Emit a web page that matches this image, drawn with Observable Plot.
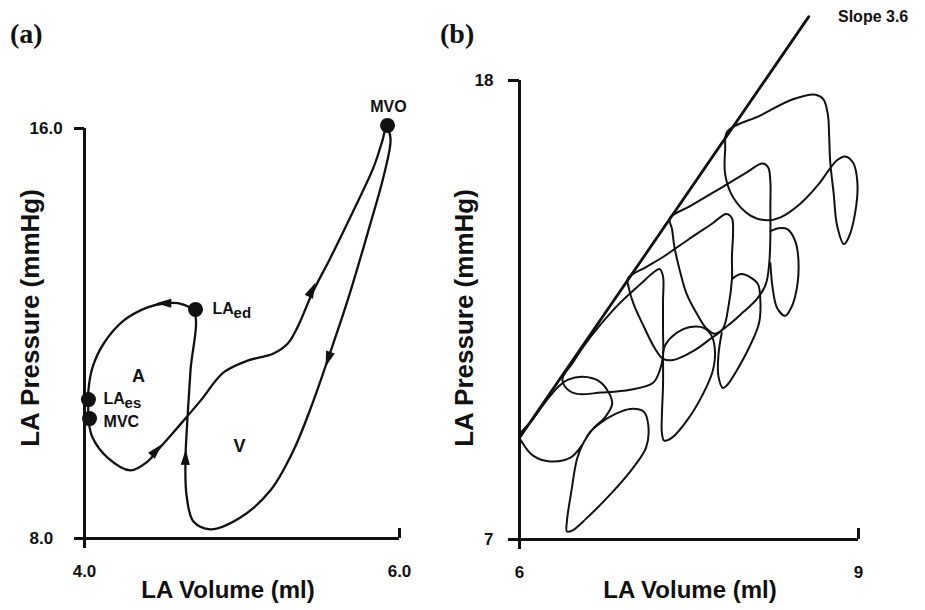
<!DOCTYPE html>
<html><head><meta charset="utf-8">
<script src="https://cdn.jsdelivr.net/npm/d3@7"></script>
<script src="https://cdn.jsdelivr.net/npm/@observablehq/plot@0.6"></script>
<style>
html,body{margin:0;padding:0;background:#fff;}
#page{position:relative;width:925px;height:610px;overflow:hidden;background:#fff;}
.lbl{position:absolute;font-family:"Liberation Sans",Arial,sans-serif;font-weight:bold;color:#111;white-space:nowrap;line-height:1;}
.ttl{position:absolute;font-family:"Liberation Serif","Times New Roman",serif;font-weight:bold;font-size:28px;color:#111;line-height:1;}
.rot{transform:translate(-50%,-50%) rotate(-90deg);}
.ctr{transform:translate(-50%,-50%);}
</style></head><body><div id="page"></div>
<script>
// ---------- Panel (a): single LA pressure-volume loop (V in ml, P in mmHg) ----------
const aLoop = [
 [4.025,10.32],[4.051,9.97],[4.146,9.58],[4.292,9.33],[4.400,9.50],[4.470,9.74],[4.629,10.30],[4.737,10.69],
 [4.883,11.24],[5.035,11.47],[5.200,11.61],[5.289,11.80],[5.352,12.12],[5.448,12.80],[5.562,13.48],[5.708,14.40],
 [5.835,15.24],[5.892,15.77],[5.917,16.04],[5.943,15.80],[5.905,15.14],[5.797,13.95],[5.670,12.64],[5.549,11.53],
 [5.454,10.69],[5.327,9.72],[5.181,8.94],[4.990,8.41],[4.800,8.18],[4.692,8.33],[4.648,8.84],[4.641,9.52],
 [4.654,10.36],[4.673,11.28],[4.698,12.41],[4.622,12.57],[4.514,12.59],[4.400,12.51],[4.248,12.25],[4.121,11.80],
 [4.051,11.34],[4.025,10.89],[4.025,10.69]
];
const aPoints = [
 {name:"MVO", V:5.924, P:16.06},
 {name:"LAed", V:4.705, P:12.47},
 {name:"LAes", V:4.025, P:10.71},
 {name:"MVC", V:4.032, P:10.34}
];
const aArrows = [
 {V:4.514, P:12.59, angle:-90},
 {V:4.450, P:9.70, angle:42},
 {V:5.440, P:12.82, angle:25},
 {V:5.550, P:11.53, angle:198},
 {V:4.641, P:9.55, angle:2}
];
const aTopLabels = [{text:"MVO", V:5.93, P:16.43}];
const aSideLabels = [
 {text:"LA", V:4.813, P:12.49},
 {text:"LA", V:4.121, P:10.73},
 {text:"MVC", V:4.121, P:10.28}
];
const aSubs = [
 {text:"ed", V:4.813, P:12.49},
 {text:"es", V:4.121, P:10.73}
];
const aRegions = [
 {text:"A", V:4.343, P:11.16},
 {text:"V", V:4.984, P:9.80}
];
const aXTicks = [4, 6];
const aYTicks = [8, 16];

// ---------- Panel (b): family of loops and slope line ----------
const slopeLine = [[6.00,9.44],[8.56,19.53]];
const loop1 = [[7.84,16.78],[8.13,17.16],[8.42,17.55],[8.62,17.66],[8.69,17.55],[8.73,17.16],[8.74,16.68],[8.75,16.04],
 [8.78,15.30],[8.81,14.53],[8.87,14.08],[8.91,14.22],[8.97,14.82],[8.99,15.56],[8.95,16.04],[8.88,16.18],[8.81,16.09],
 [8.75,15.90],[8.64,15.49],[8.49,15.06],[8.31,14.72],[8.19,14.65],[8.04,14.77],[7.89,15.20],[7.82,15.75],[7.82,16.33]];
const loop2 = [[7.33,14.70],[7.51,14.99],[7.78,15.42],[8.00,15.78],[8.15,16.01],[8.20,15.92],[8.22,15.58],[8.22,14.99],
 [8.22,14.27],[8.21,13.62],[8.18,13.12],[8.10,12.76],[7.98,12.45],[7.85,12.14],[7.73,11.93],[7.65,12.07],[7.58,12.36],
 [7.48,12.88],[7.42,13.43],[7.37,14.03],[7.35,14.44]];
const loop2Lobe = [[8.22,14.39],[8.29,14.46],[8.37,14.44],[8.44,14.15],[8.47,13.55],[8.44,12.83],[8.39,12.48],[8.35,12.36],
 [8.28,12.55],[8.24,13.03],[8.22,13.62]];
const loop3 = [[6.96,13.26],[7.12,13.53],[7.27,13.77],[7.51,14.22],[7.71,14.58],[7.83,14.80],[7.88,14.70],[7.89,14.39],
 [7.88,13.79],[7.88,13.24],[7.85,12.60],[7.80,12.05],[7.69,11.81],[7.54,11.52],[7.36,11.30],[7.27,11.33],[7.20,11.57],
 [7.09,12.16],[7.01,12.64],[6.97,13.00]];
const loop3Lobe = [[7.88,13.24],[7.96,13.36],[8.04,13.29],[8.11,13.12],[8.13,12.81],[8.12,12.19],[8.03,11.59],[7.92,11.04],
 [7.84,10.71],[7.80,10.63],[7.76,10.92],[7.76,11.40],[7.79,11.95]];
const loop4 = [[6.38,10.85],[6.47,11.23],[6.57,11.64],[6.72,12.16],[6.89,12.67],[7.07,13.12],[7.19,13.41],[7.24,13.48],
 [7.27,13.31],[7.27,12.71],[7.27,12.00],[7.27,11.40],[7.24,11.04],[7.18,10.75],[6.98,10.59],[6.72,10.52],[6.51,10.49],[6.42,10.61]];
const loop4Lobe = [[7.27,11.40],[7.27,10.68],[7.26,9.97],[7.26,9.56],[7.28,9.37],[7.35,9.44],[7.50,9.92],[7.63,10.52],
 [7.71,11.04],[7.73,11.52],[7.70,11.88],[7.63,12.07],[7.51,12.09],[7.38,11.93],[7.29,11.66],[7.27,11.47]];
const loop5 = [[6.00,9.49],[6.10,9.82],[6.23,10.30],[6.35,10.68],[6.43,10.83],[6.56,10.90],[6.70,10.80],[6.79,10.52],
 [6.82,10.25],[6.76,9.94],[6.65,9.65],[6.57,9.34],[6.51,8.94],[6.46,8.17],[6.42,7.45],[6.42,7.19],[6.47,7.22],[6.59,7.50],
 [6.81,8.10],[7.00,8.70],[7.12,9.20],[7.14,9.73],[7.10,10.06],[6.98,10.13],[6.85,10.01],[6.72,9.80],[6.62,9.56],[6.55,9.25],
 [6.45,8.96],[6.27,8.87],[6.12,9.01],[6.03,9.30]];
const bXTicks = [6, 9];
const bYTicks = [7, 18];

// ---------- helpers ----------
const FONT = "Liberation Sans, Arial, sans-serif";
const INK = "#111";
const arrowHead = {draw(ctx, size) {
  const r = Math.sqrt(size / Math.PI);
  ctx.moveTo(0, -1.5 * r); ctx.lineTo(0.7 * r, 0.9 * r); ctx.lineTo(-0.7 * r, 0.9 * r); ctx.closePath();
}};
const px = d => d[0], py = d => d[1];
const closedLine = (data, w = 2) => Plot.line(data, {x: px, y: py, curve: "catmull-rom-closed", stroke: INK, strokeWidth: w});
const openLine = (data, w = 2) => Plot.line(data, {x: px, y: py, curve: "catmull-rom", stroke: INK, strokeWidth: w});

// ---------- Panel (a) ----------
const A = {w: 430, h: 610, ml: 84, mr: 31, mt: 128, mb: 72};
const aPW = A.w - A.ml - A.mr, aPH = A.h - A.mt - A.mb;
const plotA = Plot.plot({
  width: A.w, height: A.h, marginLeft: A.ml, marginRight: A.mr, marginTop: A.mt, marginBottom: A.mb,
  x: {domain: [4, 6], label: null}, y: {domain: [8, 16], label: null},
  style: {fontFamily: FONT, fontWeight: "bold", color: INK, background: "transparent", overflow: "visible"},
  marks: [
    Plot.ruleX([4], {stroke: INK, strokeWidth: 3, insetBottom: -10}),
    Plot.ruleY([8], {stroke: INK, strokeWidth: 3, insetLeft: -10}),
    Plot.ruleY([16], {stroke: INK, strokeWidth: 3, insetLeft: -10, insetRight: aPW}),
    Plot.ruleX([6], {stroke: INK, strokeWidth: 3, insetTop: aPH - 10}),
    Plot.axisX(aXTicks, {tickSize: 0, tickPadding: 26, tickFormat: d3.format(".1f"), fontSize: 17, fontWeight: "bold", label: null}),
    Plot.axisY(aYTicks, {tickSize: 0, tickPadding: 55, textAnchor: "start", tickFormat: d3.format(".1f"), fontSize: 17, fontWeight: "bold", label: null}),
    closedLine(aLoop, 2.3),
    Plot.dot(aArrows, {x: "V", y: "P", rotate: "angle", symbol: arrowHead, r: 6.5, fill: INK, stroke: "none"}),
    Plot.dot(aPoints, {x: "V", y: "P", r: 7.5, fill: INK, stroke: "none"}),
    Plot.text(aTopLabels, {x: "V", y: "P", text: "text", textAnchor: "middle", fontSize: 16, fontWeight: "bold", fill: INK}),
    Plot.text(aSideLabels, {x: "V", y: "P", text: "text", textAnchor: "start", fontSize: 16, fontWeight: "bold", fill: INK}),
    Plot.text(aSubs, {x: "V", y: "P", text: "text", textAnchor: "start", dx: 21, dy: 5, fontSize: 15, fontWeight: "bold", fill: INK}),
    Plot.text(aRegions, {x: "V", y: "P", text: "text", fontSize: 18, fontWeight: "bold", fill: INK})
  ]
});

// ---------- Panel (b) ----------
const B = {w: 495, h: 610, ml: 89, mr: 67, mt: 80, mb: 71};
const bPW = B.w - B.ml - B.mr, bPH = B.h - B.mt - B.mb;
const plotB = Plot.plot({
  width: B.w, height: B.h, marginLeft: B.ml, marginRight: B.mr, marginTop: B.mt, marginBottom: B.mb,
  x: {domain: [6, 9], label: null}, y: {domain: [7, 18], label: null},
  style: {fontFamily: FONT, fontWeight: "bold", color: INK, background: "transparent", overflow: "visible"},
  marks: [
    Plot.ruleX([6], {stroke: INK, strokeWidth: 3, insetBottom: -10}),
    Plot.ruleY([7], {stroke: INK, strokeWidth: 3, insetLeft: -11}),
    Plot.ruleY([18], {stroke: INK, strokeWidth: 3, insetLeft: -11, insetRight: bPW}),
    Plot.ruleX([9], {stroke: INK, strokeWidth: 3, insetTop: bPH - 11}),
    Plot.axisX(bXTicks, {tickSize: 0, tickPadding: 26, fontSize: 17, fontWeight: "bold", label: null}),
    Plot.axisY(bYTicks, {tickSize: 0, tickPadding: 26, fontSize: 17, fontWeight: "bold", label: null}),
    openLine(slopeLine, 2.8),
    closedLine(loop1), closedLine(loop2), openLine(loop2Lobe),
    closedLine(loop3), openLine(loop3Lobe),
    closedLine(loop4), openLine(loop4Lobe),
    closedLine(loop5)
  ]
});

const page = document.getElementById("page");
plotA.style.position = "absolute"; plotA.style.left = "0px"; plotA.style.top = "0px";
plotB.style.position = "absolute"; plotB.style.left = "430px"; plotB.style.top = "0px";
page.appendChild(plotA); page.appendChild(plotB);

function addLabel(text, cls, css) {
  const el = document.createElement("div");
  el.className = cls; el.textContent = text;
  Object.assign(el.style, css);
  page.appendChild(el);
}
addLabel("(a)", "ttl", {left: "10px", top: "20px"});
addLabel("(b)", "ttl", {left: "440px", top: "20px"});
addLabel("Slope 3.6", "lbl", {left: "838px", top: "9px", fontSize: "16px"});
addLabel("LA Pressure (mmHg)", "lbl rot", {left: "30px", top: "318px", fontSize: "26px"});
addLabel("LA Pressure (mmHg)", "lbl rot", {left: "464px", top: "318px", fontSize: "26px"});
addLabel("LA Volume (ml)", "lbl ctr", {left: "228px", top: "590px", fontSize: "24px"});
addLabel("LA Volume (ml)", "lbl ctr", {left: "690px", top: "590px", fontSize: "24px"});
</script></body></html>
